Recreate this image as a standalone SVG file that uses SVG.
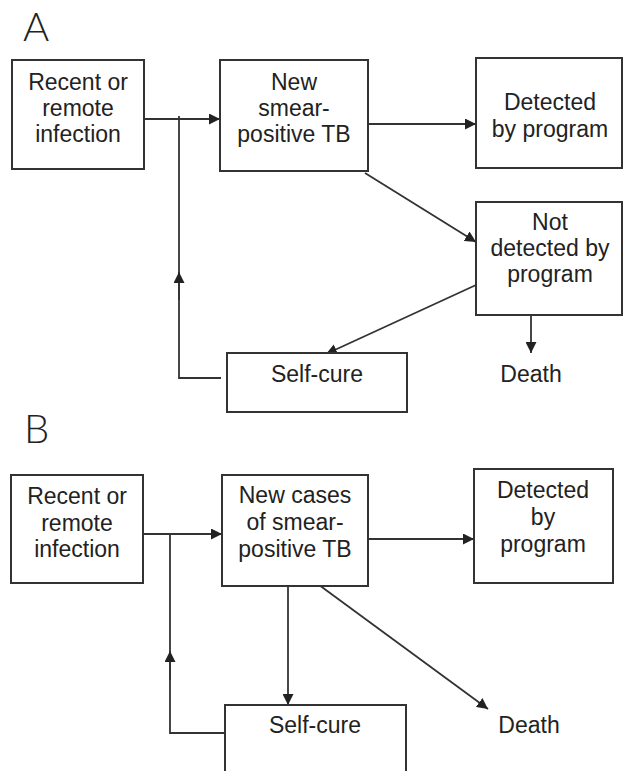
<svg xmlns="http://www.w3.org/2000/svg" width="624" height="771" viewBox="0 0 624 771">
<style>
.box{fill:#fff;stroke:#333;stroke-width:2}
.t{font-family:"Liberation Sans",Arial,sans-serif;font-size:23px;fill:#222;text-anchor:middle}
.lbl{font-family:"Lato","DejaVu Sans",sans-serif;font-weight:300;font-size:40px;fill:#222}
.c{fill:none;stroke:#333;stroke-width:1.8}
</style>
<defs>
<marker id="ah" viewBox="0 0 10 10" refX="10" refY="5" markerWidth="11" markerHeight="11" markerUnits="userSpaceOnUse" orient="auto">
<path d="M0,0 L10,5 L0,10 z" fill="#222"/>
</marker>
</defs>
<text class="lbl" x="23" y="41">A</text>
<text class="lbl" x="24" y="443">B</text>

<g id="connectors">
<!-- A -->
<line class="c" x1="144" y1="119" x2="220" y2="119" marker-end="url(#ah)"/>
<polyline class="c" points="221,378 179,378 179,116"/>
<line class="c" x1="179" y1="300" x2="179" y2="272" marker-end="url(#ah)"/>
<line class="c" x1="364" y1="124" x2="476" y2="124" marker-end="url(#ah)"/>
<line class="c" x1="365" y1="173" x2="476" y2="242" marker-end="url(#ah)"/>
<line class="c" x1="476" y1="285" x2="326" y2="354" marker-end="url(#ah)"/>
<line class="c" x1="531" y1="315" x2="531" y2="353" marker-end="url(#ah)"/>
<!-- B -->
<line class="c" x1="143" y1="534" x2="222" y2="534" marker-end="url(#ah)"/>
<polyline class="c" points="225,733 170,733 170,534"/>
<line class="c" x1="170" y1="680" x2="170" y2="651" marker-end="url(#ah)"/>
<line class="c" x1="363" y1="539" x2="474" y2="539" marker-end="url(#ah)"/>
<line class="c" x1="288" y1="586" x2="288" y2="705" marker-end="url(#ah)"/>
<line class="c" x1="315" y1="582" x2="488" y2="709" marker-end="url(#ah)"/>
</g>

<g id="a-infection">
<rect class="box" x="12" y="60" width="132" height="109"/>
<text class="t" x="78" y="90">Recent or</text>
<text class="t" x="78" y="116">remote</text>
<text class="t" x="78" y="142">infection</text>
</g>
<g id="a-newtb">
<rect class="box" x="220" y="60" width="148" height="111"/>
<text class="t" x="294" y="90">New</text>
<text class="t" x="294" y="116">smear-</text>
<text class="t" x="294" y="142">positive TB</text>
</g>
<g id="a-detected">
<rect class="box" x="476" y="58" width="146" height="110"/>
<text class="t" x="550" y="110">Detected</text>
<text class="t" x="550" y="137">by program</text>
</g>
<g id="a-notdetected">
<rect class="box" x="476" y="202" width="146" height="113"/>
<text class="t" x="550" y="230">Not</text>
<text class="t" x="550" y="256">detected by</text>
<text class="t" x="550" y="282">program</text>
</g>
<g id="a-selfcure">
<rect class="box" x="227" y="353" width="180" height="59"/>
<text class="t" x="317" y="382">Self-cure</text>
</g>
<g id="a-death">
<text class="t" x="531" y="382">Death</text>
</g>

<g id="b-infection">
<rect class="box" x="11" y="475" width="132" height="108"/>
<text class="t" x="77" y="504">Recent or</text>
<text class="t" x="77" y="531">remote</text>
<text class="t" x="77" y="557">infection</text>
</g>
<g id="b-newtb">
<rect class="box" x="222" y="475" width="146" height="111"/>
<text class="t" x="295" y="503">New cases</text>
<text class="t" x="295" y="530">of smear-</text>
<text class="t" x="295" y="557">positive TB</text>
</g>
<g id="b-detected">
<rect class="box" x="474" y="469" width="139" height="114"/>
<text class="t" x="543" y="498">Detected</text>
<text class="t" x="543" y="525">by</text>
<text class="t" x="543" y="552">program</text>
</g>
<g id="b-selfcure">
<rect class="box" x="225" y="705" width="181" height="80"/>
<text class="t" x="315" y="733">Self-cure</text>
</g>
<g id="b-death">
<text class="t" x="529" y="733">Death</text>
</g>
</svg>
